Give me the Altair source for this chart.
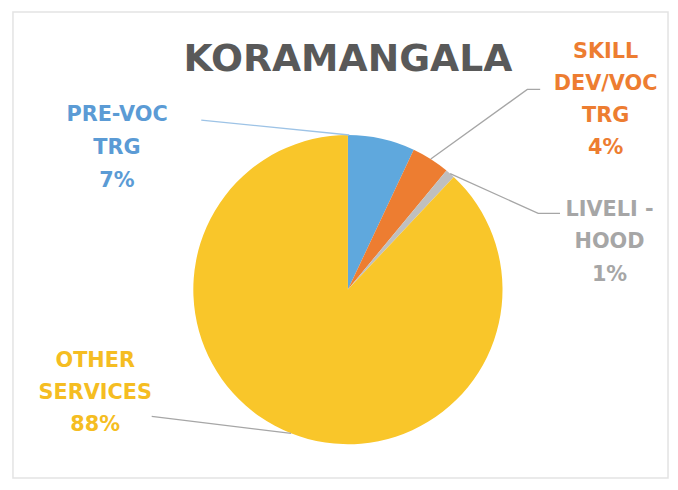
import math
import altair as alt
import pandas as pd

# ---- data ----
categories = ["PRE-VOC TRG", "SKILL DEV/VOC TRG", "LIVELI - HOOD", "OTHER SERVICES"]
values = [7, 4, 1, 88]
label_text = [["PRE-VOC", "TRG"], ["SKILL", "DEV/VOC", "TRG"], ["LIVELI -", "HOOD"], ["OTHER", "SERVICES"]]
chart_title = "KORAMANGALA"

# ---- styles ----
slice_colors = ["#5FA8DD", "#ED7D31", "#BFBFBF", "#F9C62A"]
text_colors = ["#5B9BD5", "#ED7D31", "#A6A6A6", "#F5BD22"]
leader_colors = ["#9DC3E6", "#A6A6A6", "#A6A6A6", "#A6A6A6"]
FONT = "DejaVu Sans"
CX, CY, R = 338, 280, 156
W, H = 668, 474

# label layout (view pixel coordinates): text centre x, first-line y, line step, leader elbow points
layout = [
    dict(x=105, y0=104, dy=33, elbow=[(190, 109)], anchor=0.5),
    dict(x=598, y0=40, dy=32.5, elbow=[(532, 78), (519, 78)], anchor=None),
    dict(x=602, y0=200, dy=32.5, elbow=[(552, 203), (530, 203)], anchor=None),
    dict(x=83, y0=352, dy=32.5, elbow=[(140, 408)], anchor=None),
]

total = sum(values)
pie_df = pd.DataFrame({"category": categories, "value": values, "order": list(range(len(values)))})

# text rows
text_rows = []
line_rows = []
cum = 0
for i, (cat, v) in enumerate(zip(categories, values)):
    lay = layout[i]
    lines = label_text[i] + [f"{round(100 * v / total)}%"]
    for j, t in enumerate(lines):
        text_rows.append({"t": t, "px": lay["x"], "py": lay["y0"] + j * lay["dy"], "c": text_colors[i]})
    mid = (cum + v / 2) / total * 360
    ang = lay["anchor"] if lay["anchor"] is not None else mid
    ax = CX + R * math.sin(math.radians(ang))
    ay = CY - R * math.cos(math.radians(ang))
    pts = lay["elbow"] + [(ax, ay)]
    for k, (px, py) in enumerate(pts):
        line_rows.append({"cat": cat, "k": k, "px": px, "py": py, "c": leader_colors[i]})
    cum += v

text_df = pd.DataFrame(text_rows)
line_df = pd.DataFrame(line_rows)

pie = alt.Chart(pie_df).mark_arc(outerRadius=R).encode(
    theta=alt.Theta("value:Q", stack=True),
    color=alt.Color("category:N", scale=alt.Scale(domain=categories, range=slice_colors), legend=None),
    order=alt.Order("order:Q"),
    x=alt.value(CX),
    y=alt.value(CY),
)

leaders = alt.Chart(line_df).mark_line(strokeWidth=1.3).encode(
    x=alt.X("px:Q", scale=None, axis=None),
    y=alt.Y("py:Q", scale=None, axis=None),
    detail="cat:N",
    order="k:Q",
    color=alt.Color("c:N", scale=None),
)

labels = alt.Chart(text_df).mark_text(
    font=FONT, fontSize=21, fontWeight="bold", align="center", baseline="middle"
).encode(
    x=alt.X("px:Q", scale=None, axis=None),
    y=alt.Y("py:Q", scale=None, axis=None),
    text="t:N",
    color=alt.Color("c:N", scale=None),
)

title = alt.Chart(pd.DataFrame({"t": [chart_title]})).mark_text(
    font=FONT, fontSize=38, fontWeight="bold", align="center", baseline="middle", color="#595959"
).encode(
    x=alt.value(CX),
    y=alt.value(48),
    text="t:N",
)

chart = alt.layer(pie, leaders, labels, title).properties(
    width=W,
    height=H,
    autosize=alt.AutoSizeParams(type="fit", contains="padding"),
    padding={"left": 5, "top": 2, "right": 2, "bottom": 2},
    background="white",
).configure_view(stroke="#E3E3E3", strokeWidth=1.5)

chart.save("out.html", embed_options={"renderer": "svg", "actions": False})
